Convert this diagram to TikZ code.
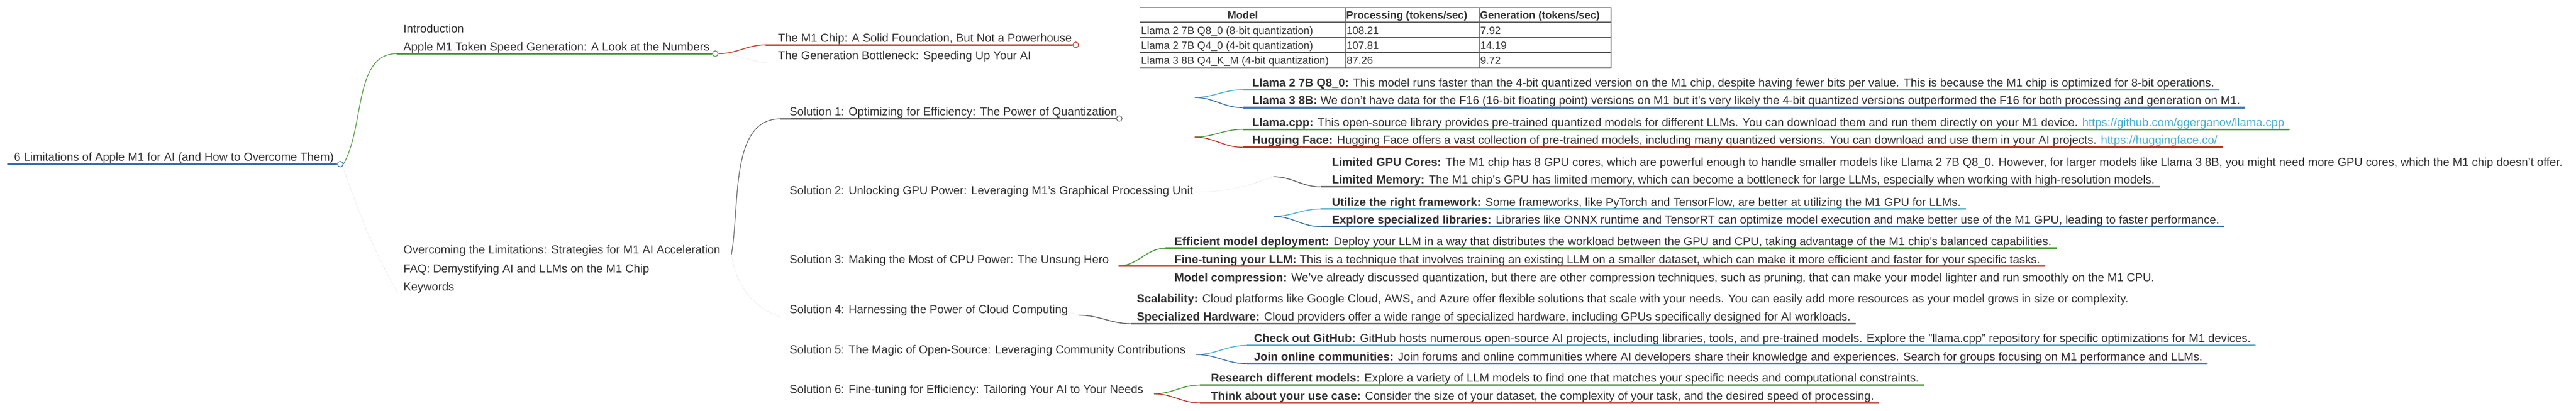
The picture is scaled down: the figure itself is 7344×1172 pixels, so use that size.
\documentclass[tikz,border=0pt]{standalone}
\usepackage{fontspec}
\setmainfont{Liberation Sans}
\usetikzlibrary{calc}
\definecolor{tc}{HTML}{333333}
\definecolor{cg}{HTML}{4C9A3A}
\definecolor{cr}{HTML}{C0392B}
\definecolor{cb}{HTML}{3A74AD}
\definecolor{cl}{HTML}{4FAFD1}
\definecolor{cy}{HTML}{666666}
\begin{document}
\begin{tikzpicture}[x=1pt,y=-1pt,
  txt/.style={font=\fontsize{33}{40}\selectfont, anchor=base west, inner sep=0pt, text=tc},
  tb/.style={font=\fontsize{30}{36}\selectfont, anchor=base west, inner sep=0pt, text=tc},
  ul/.style={line width=4.5pt},
  cv/.style={line width=2.5pt, out=0, in=180},
  faint/.style={gray!45, dotted, line width=1pt},
  dot/.style={circle, draw, fill=white, line width=2pt, minimum size=16pt, inner sep=0pt},
  lnk/.style={text=cl}]
\useasboundingbox (0,0) rectangle (7344,1172);
\fill[white] (0,0) rectangle (7344,1172);
% root
\node[txt] (root) at (40,459) {6 Limitations of Apple M1 for AI (and How to Overcome Them)};
\coordinate (rootS) at (21,468);
\node[dot, draw=cb] (rootC) at (970,468) {};
\draw[cb, line width=5pt] (rootS) -- (rootC.west);
% level 1
\node[txt] (intro) at (1150,94) {Introduction};
\node[txt] (apple) at (1150,144) {Apple M1 Token Speed Generation: A Look at the Numbers};
\coordinate (appleS) at (1131,153);
\node[dot, draw=cg] (appleC) at (2039,153) {};
\draw[cg, line width=2pt] (rootC.east) to[out=60, in=180, looseness=0.9] (appleS);
\draw[cg, ul] (appleS) -- (appleC.west);
\node[txt] (over) at (1150,723) {Overcoming the Limitations: Strategies for M1 AI Acceleration};
\node[txt] (faq) at (1150,778) {FAQ: Demystifying AI and LLMs on the M1 Chip};
\node[txt] (kw) at (1150,829) {Keywords};
\coordinate (kwS) at (1136,838);
\draw[faint] (rootC.south east) to[out=-70, in=120] (kwS);
% level 2 under Apple
\node[txt] (m1) at (2218,120) {The M1 Chip: A Solid Foundation, But Not a Powerhouse};
\coordinate (m1S) at (2183,128);
\node[dot, draw=cr] (m1C) at (3067,128) {};
\draw[cr, cv] (appleC.east) to (m1S);
\draw[cr, ul] (m1S) -- (m1C.west);
\node[txt] (gen) at (2218,170) {The Generation Bottleneck: Speeding Up Your AI};
\coordinate (genS) at (2204,180);
\draw[faint] (appleC.east) to[out=0,in=180] (genS);
% table
\draw[tc!80, line width=2pt] (3250,21) rectangle (4593,193);
\foreach \yy in {63,107,150} \draw[tc!80, line width=2pt] (3250,\yy) -- (4593,\yy);
\foreach \xx in {3836,4217} \draw[tc!80, line width=2pt] (\xx,21) -- (\xx,193);
\node[tb, anchor=base] (h1) at (3543,53) {\textbf{Model}};
\node[tb] (h2) at (3838,53) {\textbf{Processing (tokens/sec)}};
\node[tb] (h3) at (4219,53) {\textbf{Generation (tokens/sec)}};
\node[tb] (r11) at (3253,97) {Llama 2 7B Q8\_0 (8-bit quantization)};
\node[tb] (r12) at (3839,97) {108.21};
\node[tb] (r13) at (4220,97) {7.92};
\node[tb] (r21) at (3253,140) {Llama 2 7B Q4\_0 (4-bit quantization)};
\node[tb] (r22) at (3839,140) {107.81};
\node[tb] (r23) at (4220,140) {14.19};
\node[tb] (r31) at (3253,183) {Llama 3 8B Q4\_K\_M (4-bit quantization)};
\node[tb] (r32) at (3839,183) {87.26};
\node[tb] (r33) at (4220,183) {9.72};
% solutions
\coordinate (overE) at (2085,727);
\node[txt] (s1) at (2251,330) {Solution 1: Optimizing for Efficiency: The Power of Quantization};
\coordinate (s1S) at (2225,339);
\node[dot, draw=cy] (s1C) at (3191,338) {};
\draw[cy, line width=2pt] (overE) to[out=80, in=180, looseness=0.9] (s1S);
\draw[cy, ul] (s1S) -- (s1C.west);
\node[txt] (s2) at (2251,555) {Solution 2: Unlocking GPU Power: Leveraging M1's Graphical Processing Unit};
\node[txt] (s3) at (2251,751) {Solution 3: Making the Most of CPU Power: The Unsung Hero};
\node[txt] (s4) at (2251,894) {Solution 4: Harnessing the Power of Cloud Computing};
\node[txt] (s5) at (2251,1009) {Solution 5: The Magic of Open-Source: Leveraging Community Contributions};
\node[txt] (s6) at (2251,1122) {Solution 6: Fine-tuning for Efficiency: Tailoring Your AI to Your Needs};
\coordinate (s4S) at (2225,904);
\draw[faint] (overE) to[out=-80, in=160] (s4S);
% S1 children
\coordinate (b1) at (3406,278);
\coordinate (b2) at (3406,391);
\node[txt] (q1) at (3570,247) {\textbf{Llama 2 7B Q8\_0:} This model runs faster than the 4-bit quantized version on the M1 chip, despite having fewer bits per value. This is because the M1 chip is optimized for 8-bit operations.};
\node[txt] (q2) at (3570,298) {\textbf{Llama 3 8B:} We don't have data for the F16 (16-bit floating point) versions on M1 but it's very likely the 4-bit quantized versions outperformed the F16 for both processing and generation on M1.};
\node[txt] (q3) at (3570,360) {\textbf{Llama.cpp:} This open-source library provides pre-trained quantized models for different LLMs. You can download them and run them directly on your M1 device. {\color{cl}\underline{https://github.com/ggerganov/llama.cpp}}};
\node[txt] (q4) at (3570,411) {\textbf{Hugging Face:} Hugging Face offers a vast collection of pre-trained models, including many quantized versions. You can download and use them in your AI projects. {\color{cl}\underline{https://huggingface.co/}}};
\coordinate (q1S) at (3542,256);
\coordinate (q2S) at (3542,307);
\coordinate (q3S) at (3542,369);
\coordinate (q4S) at (3542,420);
\draw[cl, cv] (b1) to (q1S); \draw[cl, ul] (q1S) -- ($(q1S -| q1.east)+(14,0)$);
\draw[cb, cv] (b1) to (q2S); \draw[cb, ul] (q2S) -- ($(q2S -| q2.east)+(14,0)$);
\draw[cg, cv] (b2) to (q3S); \draw[cg, ul] (q3S) -- ($(q3S -| q3.east)+(14,0)$);
\draw[cr, cv] (b2) to (q4S); \draw[cr, ul] (q4S) -- ($(q4S -| q4.east)+(14,0)$);
% S2 children
\node[txt] (g1) at (3797,473) {\textbf{Limited GPU Cores:} The M1 chip has 8 GPU cores, which are powerful enough to handle smaller models like Llama 2 7B Q8\_0. However, for larger models like Llama 3 8B, you might need more GPU cores, which the M1 chip doesn't offer.};
\node[txt] (g2) at (3797,524) {\textbf{Limited Memory:} The M1 chip's GPU has limited memory, which can become a bottleneck for large LLMs, especially when working with high-resolution models.};
\node[txt] (g3) at (3797,588) {\textbf{Utilize the right framework:} Some frameworks, like PyTorch and TensorFlow, are better at utilizing the M1 GPU for LLMs.};
\node[txt] (g4) at (3797,638) {\textbf{Explore specialized libraries:} Libraries like ONNX runtime and TensorRT can optimize model execution and make better use of the M1 GPU, leading to faster performance.};
\coordinate (s2E) at (3398,548);
\coordinate (b3) at (3630,504);
\coordinate (b4) at (3631,617);
\coordinate (g2S) at (3766,533);
\coordinate (g3S) at (3764,596);
\coordinate (g4S) at (3764,646);
\draw[faint] (s2E) to[out=0, in=200] (b3);
\draw[cy, cv] (b3) to (g2S); \draw[cy, ul] (g2S) -- ($(g2S -| g2.east)+(14,0)$);
\draw[cl, cv] (b4) to (g3S); \draw[cl, ul] (g3S) -- ($(g3S -| g3.east)+(14,0)$);
\draw[cb, cv] (b4) to (g4S); \draw[cb, ul] (g4S) -- ($(g4S -| g4.east)+(14,0)$);
% S3 children
\node[txt] (c1) at (3348,700) {\textbf{Efficient model deployment:} Deploy your LLM in a way that distributes the workload between the GPU and CPU, taking advantage of the M1 chip's balanced capabilities.};
\node[txt] (c2) at (3348,751) {\textbf{Fine-tuning your LLM:} This is a technique that involves training an existing LLM on a smaller dataset, which can make it more efficient and faster for your specific tasks.};
\node[txt] (c3) at (3348,802) {\textbf{Model compression:} We've already discussed quantization, but there are other compression techniques, such as pruning, that can make your model lighter and run smoothly on the M1 CPU.};
\coordinate (b5) at (3189,758);
\coordinate (c1S) at (3323,708);
\draw[cg, cv] (b5) to (c1S); \draw[cg, ul] (c1S) -- ($(c1S -| c1.east)+(14,0)$);
\draw[cr, ul] (b5) -- ($(b5 -| c2.east)+(14,0)$);
% S4 children
\node[txt] (d1) at (3241,863) {\textbf{Scalability:} Cloud platforms like Google Cloud, AWS, and Azure offer flexible solutions that scale with your needs. You can easily add more resources as your model grows in size or complexity.};
\node[txt] (d2) at (3241,915) {\textbf{Specialized Hardware:} Cloud providers offer a wide range of specialized hardware, including GPUs specifically designed for AI workloads.};
\coordinate (s4E) at (3042,888);
\coordinate (b6) at (3077,899);
\coordinate (d2S) at (3224,923);
\draw[faint] (s4E) -- (b6);
\draw[cy, cv] (b6) to (d2S); \draw[cy, ul] (d2S) -- ($(d2S -| d2.east)+(14,0)$);
% S5 children
\node[txt] (e1) at (3575,976) {\textbf{Check out GitHub:} GitHub hosts numerous open-source AI projects, including libraries, tools, and pre-trained models. Explore the "llama.cpp" repository for specific optimizations for M1 devices.};
\node[txt] (e2) at (3575,1029) {\textbf{Join online communities:} Join forums and online communities where AI developers share their knowledge and experiences. Search for groups focusing on M1 performance and LLMs.};
\coordinate (b7) at (3410,1011);
\coordinate (e1S) at (3554,985);
\coordinate (e2S) at (3554,1037);
\draw[cl, cv] (b7) to (e1S); \draw[cl, ul] (e1S) -- ($(e1S -| e1.east)+(14,0)$);
\draw[cb, cv] (b7) to (e2S); \draw[cb, ul] (e2S) -- ($(e2S -| e2.east)+(14,0)$);
% S6 children
\node[txt] (f1) at (3452,1089) {\textbf{Research different models:} Explore a variety of LLM models to find one that matches your specific needs and computational constraints.};
\node[txt] (f2) at (3452,1140) {\textbf{Think about your use case:} Consider the size of your dataset, the complexity of your task, and the desired speed of processing.};
\coordinate (b8) at (3290,1123);
\coordinate (f1S) at (3421,1098);
\coordinate (f2S) at (3421,1149);
\draw[cg, cv] (b8) to (f1S); \draw[cg, ul] (f1S) -- ($(f1S -| f1.east)+(14,0)$);
\draw[cr, cv] (b8) to (f2S); \draw[cr, ul] (f2S) -- ($(f2S -| f2.east)+(14,0)$);
\end{tikzpicture}
\end{document}
